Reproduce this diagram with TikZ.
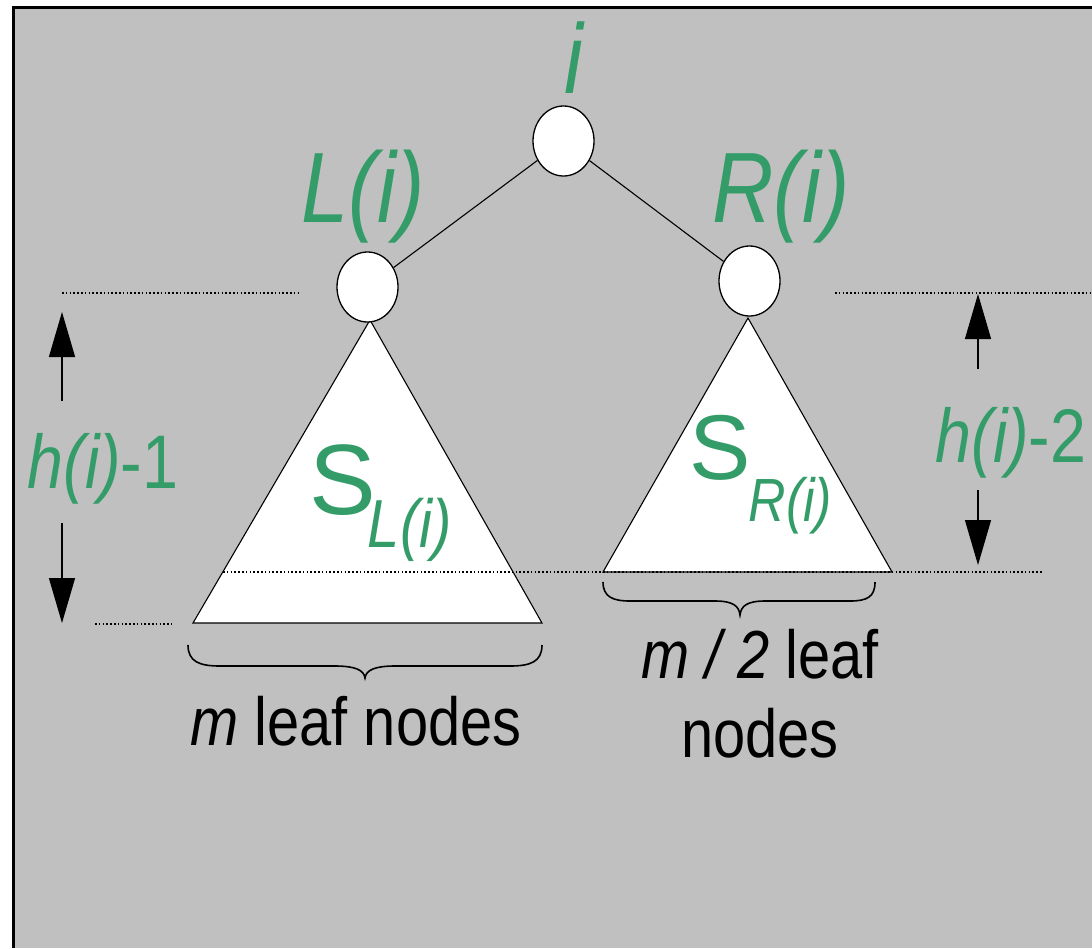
\documentclass[tikz,border=0pt]{standalone}
\usepackage{fontspec}
\setmainfont{Liberation Sans}[FakeStretch=0.85]
\newfontfamily\widefont{Liberation Sans}
\usetikzlibrary{arrows.meta,shapes.geometric}
\definecolor{bggray}{RGB}{192,192,192}
\definecolor{lblgreen}{RGB}{51,156,104}
\tikzset{
  treenode/.style={ellipse, draw=black, fill=white, line width=1.3pt, minimum width=61pt, minimum height=70pt, inner sep=0pt},
  subtree/.style={draw=black, fill=white, line width=1.1pt, line join=miter},
  guide/.style={line width=1.3pt, dash pattern=on 1.6pt off 2.2pt},
  dimarrow/.style={line width=1.2pt, -{Triangle[length=45pt,width=26pt]}},
  greenlbl/.style={text=lblgreen, inner sep=0pt, anchor=base},
  blacklbl/.style={text=black, inner sep=0pt, anchor=base},
  bracepath/.style={line width=1.6pt},
  edge/.style={line width=1.1pt}
}
\begin{document}
\begin{tikzpicture}[x=1pt,y=-1pt]
\useasboundingbox (0,0) rectangle (1092,948);
\fill[white] (0,0) rectangle (1092,948);
\fill[bggray] (13,7) rectangle (1092,948);
\draw[line width=3pt] (13.5,948) -- (13.5,7) -- (1092,7);

% subtrees
\coordinate (LTa) at (370,320);
\coordinate (LTl) at (193,623);
\coordinate (LTr) at (542,623);
\coordinate (RTa) at (748,318);
\coordinate (RTl) at (603,572);
\coordinate (RTr) at (892,572);
\draw[subtree] (LTa) -- (LTl) -- (LTr) -- cycle;
\draw[subtree] (RTa) -- (RTl) -- (RTr) -- cycle;

% guide lines
\coordinate (g1a) at (62,293);  \coordinate (g1b) at (300,293);
\coordinate (g2a) at (835,293); \coordinate (g2b) at (1090,293);
\coordinate (g3a) at (95,624);  \coordinate (g3b) at (172,624);
\coordinate (g4a) at (223,572); \coordinate (g4b) at (1043,572);
\draw[guide] (g1a) -- (g1b);
\draw[guide] (g2a) -- (g2b);
\draw[guide] (g3a) -- (g3b);
\draw[guide] (g4a) -- (g4b);

% tree nodes
\node[treenode] (root) at (563.5,141) {};
\node[treenode] (lc) at (367.5,287) {};
\node[treenode] (rc) at (749.5,281) {};
\draw[edge] (root) -- (lc);
\draw[edge] (root) -- (rc);

% labels
\node[greenlbl] (li) at (574,93) {\fontsize{99}{99}\selectfont\itshape i};
\node[greenlbl] (lL) at (363,222) {\fontsize{100}{100}\selectfont\itshape L(i)};
\node[greenlbl] (lR) at (781,222) {\fontsize{100}{100}\selectfont\itshape R(i)};
\node[greenlbl, anchor=base west] (sL) at (309,514) {\fontsize{100}{100}\selectfont{\widefont S}\kern-8pt\raisebox{-33pt}{\fontsize{68}{68}\selectfont\itshape L(i)}};
\node[greenlbl, anchor=base west] (sR) at (689,479) {\fontsize{92}{92}\selectfont{\widefont S}\kern-2pt\raisebox{-42pt}{\fontsize{61}{61}\selectfont\itshape R(i)}};
\node[greenlbl] (h1) at (103,488) {\fontsize{76}{76}\selectfont\textit{h(i)}-1};
\node[greenlbl] (h2) at (1011,462) {\fontsize{76}{76}\selectfont\textit{h(i)}-2};

% dimension arrows
\coordinate (a1s) at (62,401); \coordinate (a1t) at (62,312);
\coordinate (a2s) at (62,523); \coordinate (a2t) at (62,623);
\coordinate (a3s) at (978,369); \coordinate (a3t) at (978,294);
\coordinate (a4s) at (978,490); \coordinate (a4t) at (978,565);
\draw[dimarrow] (a1s) -- (a1t);
\draw[dimarrow] (a2s) -- (a2t);
\draw[dimarrow] (a3s) -- (a3t);
\draw[dimarrow] (a4s) -- (a4t);

% braces
\draw[bracepath] (188,645) .. controls (188,662) and (200,666) .. (220,666) -- (335,666)
  .. controls (355,666) and (364,670) .. (365,678)
  .. controls (366,670) and (375,666) .. (395,666) -- (510,666)
  .. controls (530,666) and (542,662) .. (542,645);
\draw[bracepath] (603,582) .. controls (603,597) and (613,601) .. (630,601) -- (715,601)
  .. controls (733,601) and (739,606) .. (740,615)
  .. controls (741,606) and (747,601) .. (765,601) -- (850,601)
  .. controls (867,601) and (875,597) .. (875,582);

\node[blacklbl] (t1) at (356,745) {\fontsize{68}{68}\selectfont\textit{m} leaf nodes};
\node[blacklbl] (t2) at (760,678) {\fontsize{68}{68}\selectfont\textit{m / 2} leaf};
\node[blacklbl] (t3) at (760,757) {\fontsize{68}{68}\selectfont nodes};
\end{tikzpicture}
\end{document}
